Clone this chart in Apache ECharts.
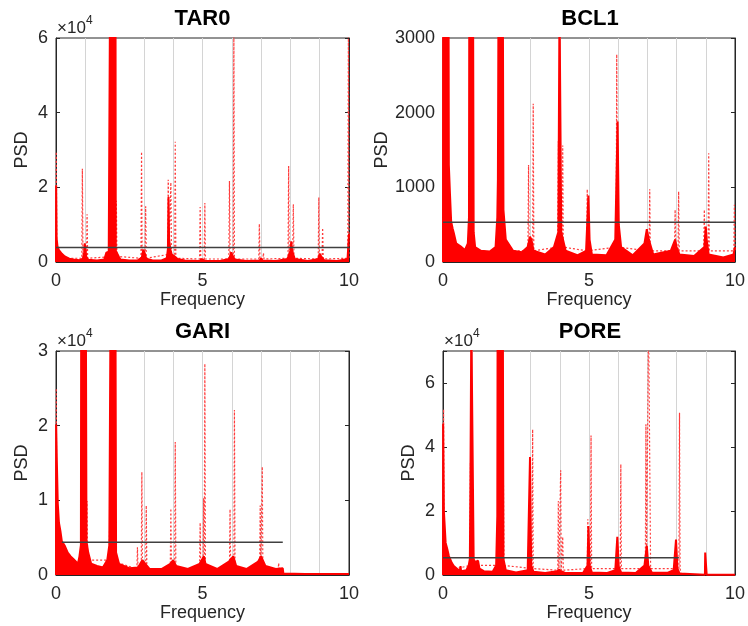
<!DOCTYPE html>
<html>
<head>
<meta charset="utf-8">
<script src="https://cdn.jsdelivr.net/npm/echarts@6/dist/echarts.min.js"></script>
<style>
html,body{margin:0;padding:0;background:#fff;}
#chart{width:748px;height:626px;}
</style>
</head>
<body>
<div id="chart"></div>
<script>
// ---------- data (frequency, PSD) ----------
const panelTitles = ['TAR0', 'BCL1', 'GARI', 'PORE'];
const gridFreqs = [1, 2, 3, 4, 5, 6, 7, 8, 9];
const xTicks = [0, 5, 10];

const yMaxTAR0 = 60000, yMaxBCL1 = 3000, yMaxGARI = 30000, yMaxPORE = 70000;

const tar0Solid = [[0,0],[0.005,20500],[0.02,6500],[0.05,4200],[0.1,3200],[0.2,2200],[0.3,1500],[0.45,900],[0.6,700],[0.8,500],[0.92,900],[0.96,2500],[0.98,5000],[1.0,4000],[1.03,1500],[1.1,600],[1.4,400],[1.65,700],[1.72,2500],[1.8,2800],[1.84,3000],[1.85,80000],[2.03,80000],[2.04,3000],[2.1,2500],[2.14,1500],[2.2,700],[2.5,400],[2.8,500],[2.93,1200],[2.98,3300],[3.02,2500],[3.08,900],[3.3,400],[3.6,400],[3.78,1000],[3.82,3500],[3.84,17400],[3.86,6000],[3.9,3500],[3.95,2000],[4.05,1500],[4.15,800],[4.4,400],[4.9,300],[4.98,800],[5.02,800],[5.1,300],[5.6,300],[5.9,800],[5.96,1800],[5.98,2600],[6.02,1800],[6.1,700],[6.5,300],[6.95,400],[7.0,1000],[7.05,400],[7.5,300],[7.9,800],[8.0,3000],[8.03,5500],[8.06,3000],[8.15,800],[8.6,300],[8.95,800],[9.0,2200],[9.05,1500],[9.15,500],[9.6,300],[9.95,800],[10.0,7500]];
const tar0Dotted = [[0,800],[0.01,29500],[0.03,1000],[0.88,1000],[0.9,25000],[0.92,1000],[1.04,1000],[1.06,12800],[1.08,1000],[2.04,1500],[2.06,16400],[2.08,1500],[2.9,1000],[2.92,29500],[2.94,1000],[3.04,1000],[3.06,14900],[3.08,1000],[3.81,2000],[3.83,22000],[3.85,2000],[3.9,2000],[3.92,21300],[3.94,2000],[4.05,1000],[4.07,32200],[4.09,1000],[4.9,800],[4.92,14700],[4.94,800],[5.06,800],[5.08,15800],[5.1,800],[5.9,800],[5.92,21700],[5.94,800],[6.05,800],[6.07,62000],[6.09,800],[6.92,800],[6.94,10200],[6.96,800],[7.06,800],[7.08,2400],[7.1,800],[7.92,1000],[7.94,25700],[7.96,1000],[8.08,1000],[8.1,15500],[8.12,1000],[8.95,800],[8.97,17300],[8.99,800],[9.08,800],[9.1,9100],[9.12,800],[9.96,1000],[9.98,62000],[10,1000]];
const tar0Threshold = [[0,3900],[10,3900]];

const bcl1Solid = [[0,0],[0.005,3500],[0.19,3500],[0.2,1300],[0.24,900],[0.28,540],[0.33,450],[0.37,390],[0.45,250],[0.6,210],[0.75,160],[0.85,250],[0.89,600],[0.9,3500],[1.03,3500],[1.05,400],[1.1,200],[1.3,150],[1.6,140],[1.8,200],[1.86,600],[1.88,1100],[1.9,3500],[2.05,3500],[2.07,700],[2.15,300],[2.4,150],[2.7,130],[2.9,200],[2.98,340],[3.03,300],[3.1,150],[3.5,100],[3.8,200],[3.95,400],[3.99,3500],[4.01,3500],[4.05,400],[4.2,150],[4.6,90],[4.9,150],[4.98,890],[5.02,300],[5.1,100],[5.6,90],[5.9,300],[5.98,1880],[6.02,500],[6.1,200],[6.5,90],[6.9,250],[6.98,440],[7.05,300],[7.2,100],[7.8,150],[7.95,300],[8.0,200],[8.1,100],[8.6,80],[8.95,200],[9.0,475],[9.03,300],[9.1,100],[9.6,60],[9.95,100],[10,200]];
const bcl1Dotted = [[0,100],[2.03,150],[2.05,1210],[2.07,150],[2.91,150],[2.93,1300],[2.95,150],[3.07,150],[3.09,2120],[3.11,150],[3.93,200],[3.95,1620],[3.97,200],[4.08,200],[4.1,1560],[4.12,200],[4.92,150],[4.94,975],[4.96,150],[5.93,200],[5.95,2780],[5.97,200],[7.06,150],[7.08,975],[7.1,150],[7.93,150],[7.95,700],[7.97,150],[8.05,150],[8.07,945],[8.09,150],[8.93,150],[8.95,700],[8.97,150],[9.08,150],[9.1,1455],[9.12,150],[9.96,150],[9.98,765],[10,150]];
const bcl1Threshold = [[0,534],[10,534]];

const gariSolid = [[0,0],[0.005,20200],[0.03,15000],[0.06,9600],[0.1,7000],[0.15,5900],[0.2,4500],[0.3,3900],[0.4,3000],[0.5,2500],[0.6,2100],[0.75,1500],[0.8,2500],[0.85,4000],[0.86,35000],[1.02,35000],[1.04,4500],[1.1,3000],[1.2,1500],[1.4,1200],[1.6,1000],[1.75,2000],[1.82,4000],[1.86,35000],[2.03,35000],[2.05,3000],[2.15,1500],[2.5,900],[2.8,1000],[2.95,2000],[3.05,1500],[3.2,800],[3.6,800],[3.9,1500],[4.0,2000],[4.1,1200],[4.5,800],[4.9,1500],[5.05,2500],[5.1,1500],[5.5,800],[5.9,1800],[6.05,2500],[6.15,1200],[6.5,800],[6.9,1800],[7.0,2500],[7.15,1200],[7.5,800],[7.74,900],[7.76,200],[8.5,150],[9.5,150],[10,150]];
const gariDotted = [[0,500],[0.01,25000],[0.03,500],[1.04,2000],[1.06,9900],[1.08,2000],[1.81,2000],[1.83,6500],[1.85,2000],[2.76,800],[2.78,3700],[2.8,800],[2.91,800],[2.93,13800],[2.95,800],[3.06,800],[3.08,9300],[3.1,800],[3.9,800],[3.92,8900],[3.94,800],[4.05,800],[4.07,17800],[4.09,800],[4.9,800],[4.92,7000],[4.94,800],[5.02,800],[5.04,10300],[5.06,800],[5.08,28300],[5.1,800],[5.92,800],[5.94,8800],[5.96,800],[6.07,800],[6.09,22100],[6.11,800],[6.95,800],[6.97,9300],[6.99,800],[7.02,800],[7.04,14500],[7.06,800],[7.58,600],[7.6,1600],[7.62,600],[7.74,600]];
const gariThreshold = [[0.2,4400],[7.74,4400]];

const poreSolid = [[0,0],[0.005,47300],[0.03,20000],[0.09,10100],[0.15,8000],[0.2,6000],[0.3,3800],[0.37,2800],[0.5,1800],[0.58,1200],[0.6,2800],[0.62,1200],[0.8,1500],[0.88,3000],[0.92,5000],[0.94,29400],[0.965,29400],[0.97,80000],[1.03,80000],[1.05,4900],[1.1,4000],[1.2,4500],[1.25,2000],[1.4,1200],[1.7,1000],[1.82,3000],[1.86,18400],[1.87,80000],[2.05,80000],[2.07,5000],[2.15,1500],[2.5,800],[2.9,1500],[2.98,36900],[3.02,3000],[3.1,1000],[3.5,600],[3.9,1200],[3.98,1600],[4.05,1200],[4.2,600],[4.8,700],[4.95,3000],[4.98,15300],[5.02,3000],[5.1,800],[5.6,600],[5.9,1500],[5.97,11900],[6.02,2500],[6.1,800],[6.6,600],[6.9,3000],[6.98,9100],[7.03,3000],[7.15,800],[7.7,700],[7.9,1500],[7.98,11100],[8.03,2000],[8.1,500],[8.15,100],[8.97,100],[8.98,7000],[9.02,7000],[9.03,100],[10,100]];
const poreDotted = [[0,1000],[0.02,51800],[0.04,1000],[0.92,3000],[0.94,35100],[0.96,3000],[1.01,3000],[1.03,14800],[1.05,3000],[2.05,3000],[2.07,29000],[2.09,3000],[3.05,2000],[3.07,45500],[3.09,2000],[3.93,1500],[3.95,23100],[3.97,1500],[4.01,1500],[4.03,32700],[4.05,1500],[4.08,1500],[4.1,11900],[4.12,1500],[4.94,2000],[4.96,17400],[4.98,2000],[5.05,2000],[5.07,43600],[5.09,2000],[6.07,2000],[6.09,34600],[6.11,2000],[6.93,2000],[6.95,47100],[6.97,2000],[7.03,2000],[7.04,80000],[7.09,80000],[7.11,2000],[8.08,2000],[8.1,50700],[8.12,2000],[8.15,500]];
const poreThreshold = [[0,5400],[8.08,5400]];

// ---------- layout / style ----------
const FONT = '"Liberation Sans", Arial, Helvetica, sans-serif';
const axisColor = '#262626';
const redSolid = '#ff0000';
const redDotted = '#ff3c3c';

const panels = [
  {grid:{left:56, top:38, width:293, height:224}, max:yMaxTAR0, interval:20000, scale:1e4, solid:tar0Solid, dotted:tar0Dotted, thr:tar0Threshold, nameGap:25, exp:true},
  {grid:{left:443, top:38, width:294, height:224}, max:yMaxBCL1, interval:1000, scale:1, solid:bcl1Solid, dotted:bcl1Dotted, thr:bcl1Threshold, nameGap:45, exp:false},
  {grid:{left:56, top:351, width:293, height:224}, max:yMaxGARI, interval:10000, scale:1e4, solid:gariSolid, dotted:gariDotted, thr:gariThreshold, nameGap:25, exp:true},
  {grid:{left:443, top:351, width:294, height:224}, max:yMaxPORE, interval:20000, scale:1e4, solid:poreSolid, dotted:poreDotted, thr:poreThreshold, nameGap:25, exp:true}
];

const grids = [], xAxes = [], yAxes = [], series = [], graphics = [];

panels.forEach((p, i) => {
  grids.push(Object.assign({show:true, borderColor:axisColor, borderWidth:1, backgroundColor:'#fff'}, p.grid));
  xAxes.push({
    type:'value', gridIndex:i, min:0, max:10, interval:5,
    name:'Frequency', nameLocation:'middle', nameGap:28,
    nameTextStyle:{fontFamily:FONT, fontSize:18, color:axisColor},
    axisLine:{show:true, lineStyle:{color:axisColor, width:1}},
    axisTick:{show:true, inside:true, length:4, lineStyle:{color:axisColor}},
    axisLabel:{fontFamily:FONT, fontSize:18, color:axisColor, margin:10,
      formatter:v => (xTicks.indexOf(v) >= 0 ? String(v) : '')},
    splitLine:{show:false}
  });
  const sc = p.scale, mx = p.max, iv = p.interval;
  yAxes.push({
    type:'value', gridIndex:i, min:0, max:mx, interval:iv,
    name:'PSD', nameLocation:'middle', nameGap:p.nameGap,
    nameTextStyle:{fontFamily:FONT, fontSize:18, color:axisColor},
    axisLine:{show:true, lineStyle:{color:axisColor, width:1}},
    axisTick:{show:true, inside:true, length:4, lineStyle:{color:axisColor}},
    axisLabel:{fontFamily:FONT, fontSize:18, color:axisColor, margin:8,
      formatter:v => (v % iv === 0 ? String(v / sc) : '')},
    splitLine:{show:false}
  });
  yAxes.push({
    type:'value', gridIndex:i, min:0, max:mx, interval:iv, position:'right',
    axisLine:{show:true, lineStyle:{color:axisColor, width:1}},
    axisTick:{show:true, inside:true, length:4, lineStyle:{color:axisColor}},
    axisLabel:{show:false}, splitLine:{show:false}
  });
  const yIdx = i * 2;
  series.push({
    type:'line', xAxisIndex:i, yAxisIndex:yIdx, data:p.dotted, showSymbol:false,
    animation:false, z:2, clip:true,
    lineStyle:{color:redDotted, width:1.2, type:[2,2]},
    markLine:{silent:true, symbol:'none', animation:false, z:1,
      label:{show:false}, lineStyle:{color:'#d4d4d4', width:1, type:'solid'},
      emphasis:{disabled:true},
      data:gridFreqs.map(f => ({xAxis:f}))}
  });
  series.push({
    type:'line', xAxisIndex:i, yAxisIndex:yIdx, data:p.solid, showSymbol:false,
    animation:false, z:3, clip:true,
    lineStyle:{color:redSolid, width:2},
    areaStyle:{color:redSolid, opacity:1}
  });
  series.push({
    type:'line', xAxisIndex:i, yAxisIndex:yIdx, data:p.thr, showSymbol:false,
    animation:false, z:4,
    lineStyle:{color:'#404040', width:1.5}
  });
  const cx = p.grid.left + p.grid.width / 2;
  graphics.push({type:'text', x:cx, y:p.grid.top - 19, z:10,
    style:{text:panelTitles[i], font:'bold 22px ' + FONT, fill:'#000', textAlign:'center', textVerticalAlign:'middle'}});
  if (p.exp) {
    graphics.push({type:'text', x:p.grid.left + 1, y:p.grid.top - 10, z:10,
      style:{text:'\u00d710', font:'17px ' + FONT, fill:axisColor, textAlign:'left', textVerticalAlign:'middle'}});
    graphics.push({type:'text', x:p.grid.left + 30, y:p.grid.top - 17, z:10,
      style:{text:'4', font:'12px ' + FONT, fill:axisColor, textAlign:'left', textVerticalAlign:'middle'}});
  }
});

const chart = echarts.init(document.getElementById('chart'), null, {renderer:'canvas'});
chart.setOption({
  animation:false,
  backgroundColor:'#fff',
  grid:grids, xAxis:xAxes, yAxis:yAxes, series:series, graphic:graphics
});
</script>
</body>
</html>
